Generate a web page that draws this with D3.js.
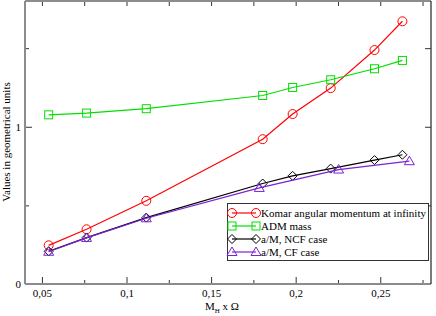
<!DOCTYPE html>
<html>
<head>
<meta charset="utf-8">
<script src="https://d3js.org/d3.v7.min.js"></script>
<style>
  body { margin: 0; background: white; }
  svg text { font-family: "Liberation Serif", "Times New Roman", serif !important; }
</style>
</head>
<body>
<div id="chart"></div>
<script>
var width = 436;
var height = 316;

// values
var xKomar = [0.054, 0.0764, 0.1117, 0.1805, 0.1982, 0.2207, 0.2466, 0.2631];
var komar  = [0.246, 0.348, 0.529, 0.921, 1.081, 1.246, 1.488, 1.671];
var adm    = [1.076, 1.087, 1.115, 1.199, 1.250, 1.299, 1.369, 1.422];
var ncf    = [0.208, 0.295, 0.422, 0.639, 0.688, 0.734, 0.788, 0.822];
var xCF    = [0.054, 0.0764, 0.1117, 0.1785, 0.2254, 0.2672];
var cf     = [0.205, 0.293, 0.418, 0.611, 0.728, 0.781];

var xTicks = [0.05, 0.1, 0.15, 0.2, 0.25];
var xMinor = [0.075, 0.125, 0.175, 0.225, 0.275];
var yTicks = [0, 1];
var yMinor = [0.5, 1.5];

var legendNames = ["Komar angular momentum at infinity", "ADM mass", "a/M, NCF case", "a/M, CF case"];

var pLeft = 25, pRight = 431, pTop = 1, pBottom = 284;

var x = d3.scaleLinear().domain([0.04, 0.28]).range([pLeft, pRight]);
var y = d3.scaleLinear().domain([0, 1.8]).range([pBottom, pTop]);

var svg = d3.select("#chart").append("svg")
    .attr("width", width)
    .attr("height", height);

var fmt = function(d) { return String(d).replace(".", ","); };
var noDomain = function(g) { g.select(".domain").remove(); };

// ticks
svg.append("g").attr("transform", "translate(0," + pBottom + ")")
    .call(d3.axisBottom(x).tickValues(xTicks).tickFormat(fmt).tickSize(-7).tickPadding(5))
    .call(noDomain);
svg.append("g").attr("transform", "translate(0," + pBottom + ")")
    .call(d3.axisBottom(x).tickValues(xMinor).tickFormat("").tickSize(-4))
    .call(noDomain);
svg.append("g").attr("transform", "translate(0," + pTop + ")")
    .call(d3.axisTop(x).tickValues(xTicks.concat(xMinor)).tickFormat("").tickSize(-5))
    .call(noDomain);
svg.append("g").attr("transform", "translate(" + pLeft + ",0)")
    .call(d3.axisLeft(y).tickValues(yTicks).tickFormat(d3.format("d")).tickSize(-7).tickPadding(4))
    .call(noDomain);
svg.append("g").attr("transform", "translate(" + pLeft + ",0)")
    .call(d3.axisLeft(y).tickValues(yMinor).tickFormat("").tickSize(-4))
    .call(noDomain);
svg.append("g").attr("transform", "translate(" + pRight + ",0)")
    .call(d3.axisRight(y).tickValues([0.5, 1, 1.5]).tickFormat("").tickSize(-6))
    .call(noDomain);

svg.selectAll(".tick line").attr("stroke", "#333");
svg.selectAll(".tick text").attr("font-size", 11).attr("fill", "black");

// frame
svg.append("line").attr("x1", pLeft).attr("x2", pLeft).attr("y1", pTop).attr("y2", pBottom)
    .attr("stroke", "#8c8c8c").attr("stroke-width", 2);
svg.append("line").attr("x1", pLeft).attr("x2", pRight).attr("y1", pBottom).attr("y2", pBottom)
    .attr("stroke", "#8c8c8c").attr("stroke-width", 2);
svg.append("line").attr("x1", pLeft).attr("x2", pRight).attr("y1", pTop).attr("y2", pTop)
    .attr("stroke", "#8c8c8c").attr("stroke-width", 2);
svg.append("line").attr("x1", pRight).attr("x2", pRight).attr("y1", pTop).attr("y2", pBottom)
    .attr("stroke", "#222").attr("stroke-width", 1.2);

// axis labels
svg.append("text")
    .attr("transform", "translate(10,142) rotate(-90)")
    .attr("text-anchor", "middle")
    .attr("font-size", 11)
    .text("Values in geometrical units");

var xl = svg.append("text")
    .attr("x", 222).attr("y", 310)
    .attr("text-anchor", "middle")
    .attr("font-size", 11);
xl.append("tspan").text("M");
xl.append("tspan").attr("font-size", 7).attr("dy", 3).text("H");
xl.append("tspan").attr("dy", -3).text(" x Ω");

// series
var series = [
  { xs: xKomar, ys: komar, color: "#ff0000", shape: "circle" },
  { xs: xKomar, ys: adm,   color: "#00e000", shape: "square" },
  { xs: xKomar, ys: ncf,   color: "#000000", shape: "diamond" },
  { xs: xCF,    ys: cf,    color: "#7a22d6", shape: "triangle" }
];

function marker(g, shape, cx, cy, color) {
  if (shape === "circle") {
    g.append("circle").attr("cx", cx).attr("cy", cy).attr("r", 4.5)
      .attr("fill", "none").attr("stroke", color);
  } else if (shape === "square") {
    g.append("rect").attr("x", cx - 4).attr("y", cy - 4).attr("width", 8).attr("height", 8)
      .attr("fill", "none").attr("stroke", color);
  } else if (shape === "diamond") {
    g.append("path").attr("d", "M" + cx + "," + (cy - 4.5) + "L" + (cx + 4.5) + "," + cy +
        "L" + cx + "," + (cy + 4.5) + "L" + (cx - 4.5) + "," + cy + "Z")
      .attr("fill", "none").attr("stroke", color);
  } else {
    g.append("path").attr("d", "M" + cx + "," + (cy - 5) + "L" + (cx + 5) + "," + (cy + 3.5) +
        "L" + (cx - 5) + "," + (cy + 3.5) + "Z")
      .attr("fill", "none").attr("stroke", color);
  }
}

var line = d3.line().x(function(d) { return x(d[0]); }).y(function(d) { return y(d[1]); });

series.forEach(function(s) {
  var pts = s.xs.map(function(v, i) { return [v, s.ys[i]]; });
  var g = svg.append("g");
  g.append("path").datum(pts).attr("d", line)
    .attr("fill", "none").attr("stroke", s.color).attr("stroke-width", 1.2);
  pts.forEach(function(p) { marker(g, s.shape, x(p[0]), y(p[1]), s.color); });
});

// legend
var lg = svg.append("g");
lg.append("rect").attr("x", 227.5).attr("y", 203.5).attr("width", 201).attr("height", 57)
  .attr("fill", "white").attr("stroke", "#333");
series.forEach(function(s, i) {
  var ly = 213 + i * 13;
  lg.append("line").attr("x1", 232).attr("x2", 256).attr("y1", ly).attr("y2", ly)
    .attr("stroke", s.color).attr("stroke-width", 1.2);
  marker(lg, s.shape, 232, ly, s.color);
  marker(lg, s.shape, 256, ly, s.color);
  lg.append("text").attr("x", 261).attr("y", ly + 4).attr("font-size", 11)
    .text(legendNames[i]);
});
</script>
</body>
</html>
